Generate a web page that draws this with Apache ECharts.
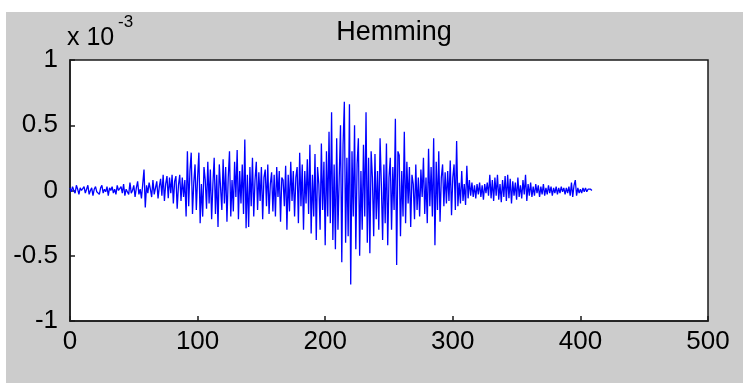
<!DOCTYPE html>
<html>
<head>
<meta charset="utf-8">
<script src="https://cdn.jsdelivr.net/npm/echarts@6/dist/echarts.min.js"></script>
<style>
  html, body { margin: 0; padding: 0; background: #fff; }
  #chart { width: 743px; height: 383px; }
</style>
</head>
<body>
<div id="chart"></div>
<script>
// signal values, in units of 1e-3, one per sample (sample index = x)
var signal = [
  0.02,-0.01,0.03,0.00,-0.02,0.04,0.01,-0.03,0.02,0.00,
  -0.01,0.03,-0.02,0.01,0.04,-0.03,0.00,0.02,-0.04,0.01,
  0.03,-0.01,0.00,-0.03,0.02,0.04,-0.02,0.01,-0.01,0.03,
  -0.04,0.02,0.00,0.03,-0.02,0.01,-0.03,0.04,0.00,-0.01,
  0.03,-0.02,0.05,-0.04,0.01,0.02,-0.03,0.06,-0.02,0.00,
  0.04,-0.05,0.02,0.07,-0.03,0.01,-0.06,0.05,0.16,-0.13,
  0.04,-0.02,0.06,0.01,-0.05,0.08,-0.03,0.02,0.07,-0.06,
  0.03,0.09,-0.04,0.12,-0.08,0.05,0.11,-0.06,0.10,-0.02,
  0.12,-0.10,0.07,0.11,-0.14,0.04,0.12,-0.08,0.10,-0.05,
  0.08,-0.20,0.30,-0.12,0.15,0.29,-0.18,0.06,0.20,-0.15,
  0.10,0.29,-0.25,0.05,-0.20,0.18,0.08,-0.14,0.22,-0.10,
  0.16,-0.22,0.05,0.25,-0.18,0.12,-0.28,0.20,0.02,-0.15,
  0.24,-0.10,0.18,-0.24,0.10,0.30,-0.20,0.08,-0.16,0.22,
  -0.05,0.31,-0.22,0.15,-0.10,0.20,-0.18,0.39,-0.29,0.12,
  -0.28,0.18,-0.12,0.25,-0.20,0.08,0.22,-0.15,0.14,-0.08,
  0.18,-0.22,0.10,0.16,-0.12,0.20,-0.18,0.05,0.14,-0.16,
  0.12,-0.20,0.18,-0.05,0.15,-0.24,0.10,0.08,-0.12,0.19,
  -0.30,0.12,-0.16,0.22,-0.08,0.15,-0.20,0.10,0.18,-0.25,
  0.29,-0.12,0.20,-0.30,0.15,-0.10,0.24,-0.18,0.35,-0.33,
  0.12,-0.20,0.28,-0.38,0.18,0.05,-0.30,0.36,-0.15,0.22,
  -0.42,0.30,-0.20,0.45,-0.25,0.60,-0.38,0.20,-0.45,0.40,
  -0.30,0.10,0.50,-0.55,0.35,0.68,-0.40,0.25,-0.35,0.66,
  -0.72,0.30,-0.20,0.50,-0.45,0.20,0.40,-0.50,0.15,-0.30,
  0.35,-0.20,0.60,-0.40,0.25,-0.48,0.30,0.10,-0.35,0.28,
  -0.22,0.15,-0.30,0.40,0.05,-0.38,0.20,-0.25,0.36,-0.42,
  0.10,0.25,-0.30,0.18,-0.15,0.55,-0.57,0.30,0.27,-0.35,
  0.15,-0.20,0.45,-0.25,0.22,-0.10,0.18,-0.28,0.12,0.05,
  -0.22,0.20,-0.15,0.10,-0.20,0.16,-0.05,0.25,-0.18,0.10,
  -0.25,0.32,-0.12,0.18,-0.20,0.40,-0.42,0.22,-0.15,0.30,
  -0.24,0.10,0.20,-0.12,0.14,-0.10,0.15,-0.08,0.23,-0.19,
  0.10,0.20,-0.15,0.38,-0.12,0.06,-0.10,0.15,-0.08,0.05,
  -0.11,0.19,-0.06,0.08,-0.04,0.06,-0.05,0.04,-0.06,0.05,
  -0.03,0.06,-0.05,0.04,-0.07,0.05,-0.02,0.06,-0.04,0.12,
  -0.06,0.08,-0.08,0.10,-0.04,0.12,-0.07,0.05,-0.09,0.08,
  -0.05,0.11,-0.08,0.12,-0.06,0.09,-0.10,0.07,-0.04,0.06,
  -0.07,0.10,-0.05,0.04,-0.06,0.08,-0.03,0.12,-0.08,0.05,
  -0.04,0.06,-0.05,0.03,-0.04,0.05,-0.02,0.04,-0.05,0.03,
  -0.03,0.05,-0.04,0.02,-0.03,0.04,-0.02,0.03,-0.04,0.02,
  -0.02,0.03,-0.03,0.02,-0.02,0.03,-0.01,0.02,-0.03,0.02,
  -0.02,0.03,-0.04,0.06,-0.05,0.04,0.08,-0.04,0.02,-0.02,
  0.01,-0.02,0.02,-0.01,0.02,-0.01,0.01,0.00,0.01,0.00
];
var xTicks = [0, 100, 200, 300, 400, 500];
var yTicks = [-1, -0.5, 0, 0.5, 1];
var titleText = "Hemming";
var scaleText = "x 10";
var scaleExp = "-3";

var font = "'Liberation Sans', Arial, sans-serif";
var points = signal.map(function (v, i) { return [i, v]; });

var myChart = echarts.init(document.getElementById("chart"), null, { renderer: "canvas" });
function axisCommon() {
	return {
		axisLine: { show: true, onZero: false, lineStyle: { color: "#1a1a1a", width: 1.5 } },
		axisTick: { show: true, inside: true, length: 5, lineStyle: { color: "#1a1a1a", width: 1.5 } },
		splitLine: { show: false }
	};
}
var option = {
	animation: false,
	backgroundColor: "#fff",
	title: {
		text: titleText,
		left: 389,
		textAlign: "center",
		top: 14,
		textStyle: { fontFamily: font, fontSize: 27, fontWeight: "normal", color: "#000" }
	},
	graphic: [
		// grey figure area
		{ type: "rect", z: -10, shape: { x: 6, y: 12, width: 737, height: 371 }, style: { fill: "#cccccc" } },
		{ type: "text", left: 67, top: 26, style: { text: scaleText, font: "25px " + font, fill: "#000" } },
		{ type: "text", left: 118, top: 14, style: { text: scaleExp, font: "17px " + font, fill: "#000" } }
	],
	grid: {
		left: 70, top: 60, width: 638, height: 261,
		show: true, backgroundColor: "#fff", borderColor: "#1a1a1a", borderWidth: 1.5
	},
	xAxis: Object.assign({
		type: "value",
		min: xTicks[0],
		max: xTicks[xTicks.length - 1],
		interval: 100,
		axisLabel: { margin: 8, color: "#000", fontFamily: font, fontSize: 26 }
	}, axisCommon()),
	yAxis: Object.assign({
		type: "value",
		min: yTicks[0],
		max: yTicks[yTicks.length - 1],
		interval: 0.5,
		axisLabel: { margin: 12, color: "#000", fontFamily: font, fontSize: 26 }
	}, axisCommon()),
	series: [{
		type: "line",
		data: points,
		symbol: "none",
		lineStyle: { color: "#0000ff", width: 1.3 }
	}]
};
myChart.setOption(option);
</script>
</body>
</html>
